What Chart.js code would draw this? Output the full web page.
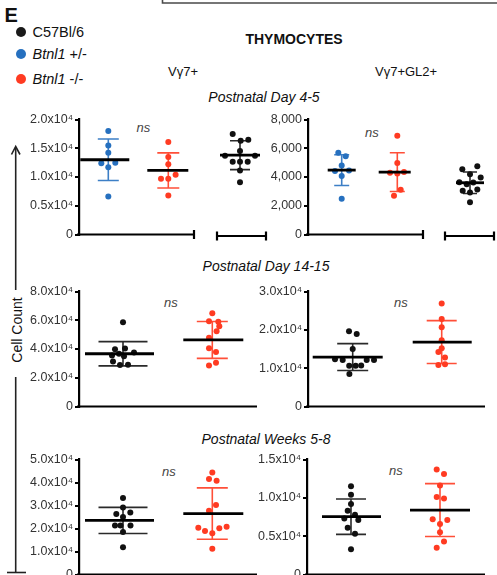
<!DOCTYPE html>
<html><head><meta charset="utf-8">
<script src="https://cdn.jsdelivr.net/npm/chart.js@4.4.1/dist/chart.umd.min.js"></script>
<style>
html,body{margin:0;padding:0;background:#fff;overflow:hidden;width:497px;height:575px}
#root{position:relative;width:497px;height:575px;overflow:hidden;font-family:"Liberation Sans",Arial,Helvetica,sans-serif;color:#111}
.t{position:absolute;white-space:nowrap;line-height:1}
.c{text-align:center;width:200px}
.ns{font-style:italic;font-size:13px;color:#444}
.dot{position:absolute;width:10.4px;height:10.4px;border-radius:50%}
canvas{position:absolute}
svg{position:absolute;left:0;top:0}
</style></head><body><div id="root">
<svg width="497" height="575">
  <polyline points="162.5,0 162.5,3 497,3" fill="none" stroke="#4a4a4a" stroke-width="1.6"/>
  <line x1="15.7" y1="147" x2="15.7" y2="290" stroke="#222" stroke-width="1.6"/>
  <line x1="15.7" y1="377" x2="15.7" y2="572.5" stroke="#222" stroke-width="1.6"/>
  <line x1="7" y1="572.5" x2="26" y2="572.5" stroke="#222" stroke-width="1.6"/>
  <polyline points="11.5,154.5 15.7,146.5 20,154.5" fill="none" stroke="#222" stroke-width="1.6"/>
</svg>
<div class="t" style="left:4.5px;top:5px;font-size:20px;font-weight:bold">E</div>
<div class="dot" style="left:16.1px;top:27.1px;background:#1a1a1a"></div>
<div class="dot" style="left:16.1px;top:48.5px;background:#2670bf"></div>
<div class="dot" style="left:16.1px;top:73.5px;background:#ff3b22"></div>
<div class="t" style="left:32.5px;top:24.7px;font-size:14.5px">C57Bl/6</div>
<div class="t" style="left:32.5px;top:47px;font-size:14.5px"><i>Btnl1</i> +/-</div>
<div class="t" style="left:32.5px;top:71.7px;font-size:14.5px"><i>Btnl1</i> -/-</div>
<div class="t c" style="left:194px;top:31.5px;font-size:14px;font-weight:bold">THYMOCYTES</div>
<div class="t" style="left:168px;top:65px;font-size:13px">Vγ7+</div>
<div class="t" style="left:375px;top:65px;font-size:13px">Vγ7+GL2+</div>
<div class="t c" style="left:164px;top:89.6px;font-size:14px;font-style:italic">Postnatal Day 4-5</div>
<div class="t c" style="left:166px;top:258.6px;font-size:14px;font-style:italic">Postnatal Day 14-15</div>
<div class="t c" style="left:166px;top:431.5px;font-size:14px;font-style:italic">Postnatal Weeks 5-8</div>
<div class="t ns" style="left:136.5px;top:120.7px">ns</div>
<div class="t ns" style="left:365px;top:125.7px">ns</div>
<div class="t ns" style="left:164px;top:295.7px">ns</div>
<div class="t ns" style="left:394px;top:295.7px">ns</div>
<div class="t ns" style="left:162px;top:464.7px">ns</div>
<div class="t ns" style="left:389px;top:464px">ns</div>
<div class="t c" style="left:-83px;top:323px;width:200px;font-size:14px;transform:rotate(-90deg);transform-origin:center">Cell Count</div>
</div>
<script>
// ---------- DATA ----------
const groupNames = ['C57Bl/6', 'Btnl1 +/-', 'Btnl1 -/-'];
// Postnatal Day 4-5, Vγ7+
const d45v7_het = [18000,15500,14200,12400,12500,11700,6600];
const d45v7_het_jit = [0,0,0,-0.7,0.7,0,0];
const d45v7_het_mean = 13000, d45v7_het_sd = 3600;
const d45v7_ko = [16100,13500,12200,9700,10400,9700,6800];
const d45v7_ko_jit = [0,0,0,-0.73,0.73,0,0];
const d45v7_ko_mean = 11150, d45v7_ko_sd = 3050;
const d45v7_wt = [17300,16150,16300,14400,13600,12600,12600,12600,13600,11100,9100];
const d45v7_wt_jit = [-0.73,0.07,0.83,0,-1.5,-0.73,0,0.77,1.5,0,0];
const d45v7_wt_mean = 13700, d45v7_wt_sd = 2450;
// Postnatal Day 4-5, Vγ7+GL2+
const d45gl_het = [5680,5450,4800,4410,4460,4070,2480];
const d45gl_het_jit = [-0.34,0.4,0,-0.67,0.73,0,0];
const d45gl_het_mean = 4480, d45gl_het_sd = 1070;
const d45gl_ko = [6870,4980,4300,4240,4350,3110,2700];
const d45gl_ko_jit = [0,0,-0.73,0,0.67,0.34,-0.33];
const d45gl_ko_mean = 4340, d45gl_ko_sd = 1350;
const d45gl_wt = [4530,4730,4190,3650,3510,3630,3970,3060,2950,3160,2280];
const d45gl_wt_jit = [-0.77,0.73,0,-1.07,-0.33,0.33,1.07,-0.73,0,0.73,0];
const d45gl_wt_mean = 3610, d45gl_wt_sd = 730;
// Postnatal Day 14-15, Vγ7+
const d14v7_wt = [58600,39900,40300,35400,36700,37600,34900,31300,28800,29100];
const d14v7_wt_jit = [0,-0.8,0.2,-1.1,-0.4,1.1,0.1,-1.0,-0.3,0.5];
const d14v7_wt_mean = 36700, d14v7_wt_sd = 8450;
const d14v7_ko = [64900,59300,59000,55900,52300,47800,40600,37900,30400,28600];
const d14v7_ko_jit = [0,-0.33,0.6,0.7,0.43,-0.33,-0.33,0.37,0.37,-0.33];
const d14v7_ko_mean = 46300, d14v7_ko_sd = 12850;
// Postnatal Day 14-15, Vγ7+GL2+
const d14gl_wt = [19600,18900,15000,12300,12100,12100,12100,10600,10600,10700,8500];
const d14gl_wt_jit = [-0.37,0.4,0,-1.77,-1.0,1.4,2.13,-0.35,0.3,0.85,-0.33];
const d14gl_wt_mean = 12900, d14gl_wt_sd = 3500;
const d14gl_ko = [26900,22800,20700,17300,15200,14200,12800,10800,11000];
const d14gl_ko_jit = [0,0,0,0,0,-0.33,0.33,-0.33,0.33];
const d14gl_ko_mean = 16800, d14gl_ko_sd = 5600;
// Postnatal Weeks 5-8, Vγ7+
const w58v7_wt = [33300,29100,26300,27000,25000,21300,21300,21300,18500,11900];
const w58v7_wt_jit = [0,0,-0.67,0.73,0,-0.8,-0.25,0.75,0,0];
const w58v7_wt_mean = 23500, w58v7_wt_sd = 5700;
const w58v7_ko = [44400,41500,40800,30200,27700,20300,18900,17900,20100,20800,11200];
const w58v7_ko_jit = [0,-0.33,0.43,0.37,-0.33,-1.4,-0.73,0,0.7,1.43,0];
const w58v7_ko_mean = 26500, w58v7_ko_sd = 11150;
// Postnatal Weeks 5-8, Vγ7+GL2+
const w58gl_wt = [11500,10400,9200,8300,7800,7300,7100,6100,5300,3300];
const w58gl_wt_jit = [0,0,0,-0.33,0.4,-0.67,0.73,-0.33,0.4,0];
const w58gl_wt_mean = 7540, w58gl_wt_sd = 2300;
const w58gl_ko = [13700,13100,11600,10100,9900,7200,7100,6600,5500,4300,3500];
const w58gl_ko_jit = [-0.33,0.4,0,-0.33,0.4,-0.73,0.73,0,0,0.4,-0.33];
const w58gl_ko_mean = 8400, w58gl_ko_sd = 3450;
// Tick labels
const ticksD45v7 = ['0','0.5x10⁴','1.0x10⁴','1.5x10⁴','2.0x10⁴'];
const ticksD45gl = ['0','2,000','4,000','6,000','8,000'];
const ticksD14v7 = ['0','2.0x10⁴','4.0x10⁴','6.0x10⁴','8.0x10⁴'];
const ticksD14gl = ['0','1.0x10⁴','2.0x10⁴','3.0x10⁴'];
const ticksW58v7 = ['0','1.0x10⁴','2.0x10⁴','3.0x10⁴','4.0x10⁴','5.0x10⁴'];
const ticksW58gl = ['0','0.5x10⁴','1.0x10⁴','1.5x10⁴'];

// ---------- STYLE / LAYOUT ----------
const COL = {
  wt: {dot:'#111111', bar:'#2a2a2a'},
  het:{dot:'#2670bf', bar:'#3d7fc6'},
  ko: {dot:'#ff3b22', bar:'#ff4f38'}
};
const FONT = '"Liberation Sans", Arial, Helvetica, sans-serif';
const UNIT = 10; // px per x unit
const R1 = [118,236], R2 = [290,408.3], R3 = [458.3,576.3];

function G(kind, center, values, jit, mean, sd, mL, mR, cap){
  return {kind, center, values, jit, mean, sd, mL, mR, cap};
}
const specs = [
  {canvasLeft:0, axisX:79, plotRight:194, row:R1, yMax:20000, step:5000, labels:ticksD45v7, ends:'right',
   groups:[G('het',108.3,d45v7_het,d45v7_het_jit,d45v7_het_mean,d45v7_het_sd,28,21,10.5),
           G('ko',168.3,d45v7_ko,d45v7_ko_jit,d45v7_ko_mean,d45v7_ko_sd,21,20,11)]},
  {plotLeft:217, plotRight:266, row:R1, yMax:20000, step:5000, labels:ticksD45v7, ends:'both',
   groups:[G('wt',240,d45v7_wt,d45v7_wt_jit,d45v7_wt_mean,d45v7_wt_sd,20,20,10)]},
  {canvasLeft:250, axisX:308, plotRight:423, row:R1, yMax:8000, step:2000, labels:ticksD45gl, ends:'right',
   groups:[G('het',341.7,d45gl_het,d45gl_het_jit,d45gl_het_mean,d45gl_het_sd,14,14,7.5),
           G('ko',397.3,d45gl_ko,d45gl_ko_jit,d45gl_ko_mean,d45gl_ko_sd,18.6,13.4,7.5)]},
  {plotLeft:445, plotRight:494, row:R1, yMax:8000, step:2000, labels:ticksD45gl, ends:'both',
   groups:[G('wt',470,d45gl_wt,d45gl_wt_jit,d45gl_wt_mean,d45gl_wt_sd,14,14,7)]},
  {canvasLeft:0, axisX:79, plotRight:257, row:R2, yMax:80000, step:20000, labels:ticksD14v7, ends:'none',
   groups:[G('wt',123,d14v7_wt,d14v7_wt_jit,d14v7_wt_mean,d14v7_wt_sd,38,31,24.5),
           G('ko',212.3,d14v7_ko,d14v7_ko_jit,d14v7_ko_mean,d14v7_ko_sd,29,31,15.5)]},
  {canvasLeft:250, axisX:308, plotRight:485, row:R2, yMax:30000, step:10000, labels:ticksD14gl, ends:'none',
   groups:[G('wt',352.7,d14gl_wt,d14gl_wt_jit,d14gl_wt_mean,d14gl_wt_sd,40,30,15.5),
           G('ko',441.7,d14gl_ko,d14gl_ko_jit,d14gl_ko_mean,d14gl_ko_sd,29,30,15)]},
  {canvasLeft:0, axisX:79, plotRight:257, row:R3, yMax:50000, step:10000, labels:ticksW58v7, ends:'none',
   groups:[G('wt',123,w58v7_wt,w58v7_wt_jit,w58v7_wt_mean,w58v7_wt_sd,38,31,24.5),
           G('ko',212.3,w58v7_ko,w58v7_ko_jit,w58v7_ko_mean,w58v7_ko_sd,29,31,15.5)]},
  {canvasLeft:250, axisX:307, plotRight:485, row:R3, yMax:15000, step:5000, labels:ticksW58gl, ends:'none',
   groups:[G('wt',351,w58gl_wt,w58gl_wt_jit,w58gl_wt_mean,w58gl_wt_sd,29,30,15),
           G('ko',440,w58gl_ko,w58gl_ko_jit,w58gl_ko_mean,w58gl_ko_sd,30,30,15)]}
];

function makeChart(spec, idx){
  const padT = 8, padB = 8, padR = 5;
  const hasY = !!spec.axisX;
  const padL = hasY ? 0 : 5;
  const plotLeft = hasY ? spec.axisX : spec.plotLeft;
  const canvasLeft = hasY ? spec.canvasLeft : plotLeft - padL;
  const yW = hasY ? spec.axisX - spec.canvasLeft : 0;
  const width = Math.round((plotLeft - canvasLeft) + (spec.plotRight - plotLeft) + padR);
  const top = spec.row[0] - padT;
  const height = (spec.row[1] - spec.row[0]) + padT + padB;
  const cv = document.createElement('canvas');
  cv.width = width; cv.height = Math.round(height);
  cv.style.left = canvasLeft + 'px'; cv.style.top = top + 'px';
  cv.style.width = width + 'px'; cv.style.height = Math.round(height) + 'px';
  document.getElementById('root').appendChild(cv);

  const gx = spec.groups.map(g => (g.center - plotLeft) / UNIT);
  const datasets = spec.groups.map((g, k) => ({
    label: g.kind,
    data: g.values.map((v, i) => ({x: gx[k] + g.jit[i], y: v})),
    backgroundColor: COL[g.kind].dot,
    borderWidth: 0,
    pointRadius: 3,
    pointHoverRadius: 3
  }));

  const plugin = {
    id: 'errbars' + idx,
    beforeDatasetsDraw(chart){
      const ctx = chart.ctx, xs = chart.scales.x, ys = chart.scales.y;
      spec.groups.forEach((g, k) => {
        const cx = xs.getPixelForValue(gx[k]);
        const yHi = ys.getPixelForValue(g.mean + g.sd);
        const yLo = ys.getPixelForValue(g.mean - g.sd);
        ctx.save();
        ctx.strokeStyle = COL[g.kind].bar; ctx.lineWidth = 1.6;
        ctx.beginPath();
        ctx.moveTo(cx, yHi); ctx.lineTo(cx, yLo);
        ctx.moveTo(cx - g.cap, yHi); ctx.lineTo(cx + g.cap, yHi);
        ctx.moveTo(cx - g.cap, yLo); ctx.lineTo(cx + g.cap, yLo);
        ctx.stroke(); ctx.restore();
      });
    },
    afterDatasetsDraw(chart){
      const ctx = chart.ctx, xs = chart.scales.x, ys = chart.scales.y;
      spec.groups.forEach((g, k) => {
        const cx = xs.getPixelForValue(gx[k]);
        const ym = ys.getPixelForValue(g.mean);
        ctx.save(); ctx.strokeStyle = '#000'; ctx.lineWidth = 2.8;
        ctx.beginPath(); ctx.moveTo(cx - g.mL, ym); ctx.lineTo(cx + g.mR, ym); ctx.stroke();
        ctx.restore();
      });
    },
    afterDraw(chart){
      const ctx = chart.ctx, a = chart.chartArea;
      const y = a.bottom;
      ctx.save(); ctx.strokeStyle = '#000'; ctx.lineWidth = 2.2;
      ctx.beginPath();
      ctx.moveTo(a.left - (hasY ? 2 : 0), y); ctx.lineTo(a.right, y);
      if (spec.ends === 'right' || spec.ends === 'both') { ctx.moveTo(a.right, y - 4.5); ctx.lineTo(a.right, y + 4.5); }
      if (spec.ends === 'both') { ctx.moveTo(a.left, y - 4.5); ctx.lineTo(a.left, y + 4.5); }
      ctx.stroke(); ctx.restore();
    }
  };

  new Chart(cv, {
    type: 'scatter',
    data: {datasets},
    options: {
      responsive: false, animation: false, devicePixelRatio: 1,
      layout: {padding: {top: padT, bottom: padB, left: padL, right: padR}},
      plugins: {legend: {display: false}, tooltip: {enabled: false}},
      events: [],
      scales: {
        x: {type: 'linear', display: false, min: 0, max: (spec.plotRight - plotLeft) / UNIT},
        y: {
          type: 'linear', display: hasY, min: 0, max: spec.yMax,
          afterFit(s){ s.width = yW; },
          afterBuildTicks(s){ s.ticks = spec.labels.map((_, i) => ({value: i * spec.step})); },
          ticks: {
            callback: (v, i) => spec.labels[i],
            font: {family: FONT, size: 12.5}, color: '#333', padding: 2
          },
          grid: {display: true, drawOnChartArea: false, drawTicks: true, tickLength: 4, color: '#000', lineWidth: 2},
          border: {display: true, color: '#000', width: 2.2}
        }
      }
    },
    plugins: [plugin]
  });
}
specs.forEach(makeChart);
</script>
</body></html>
